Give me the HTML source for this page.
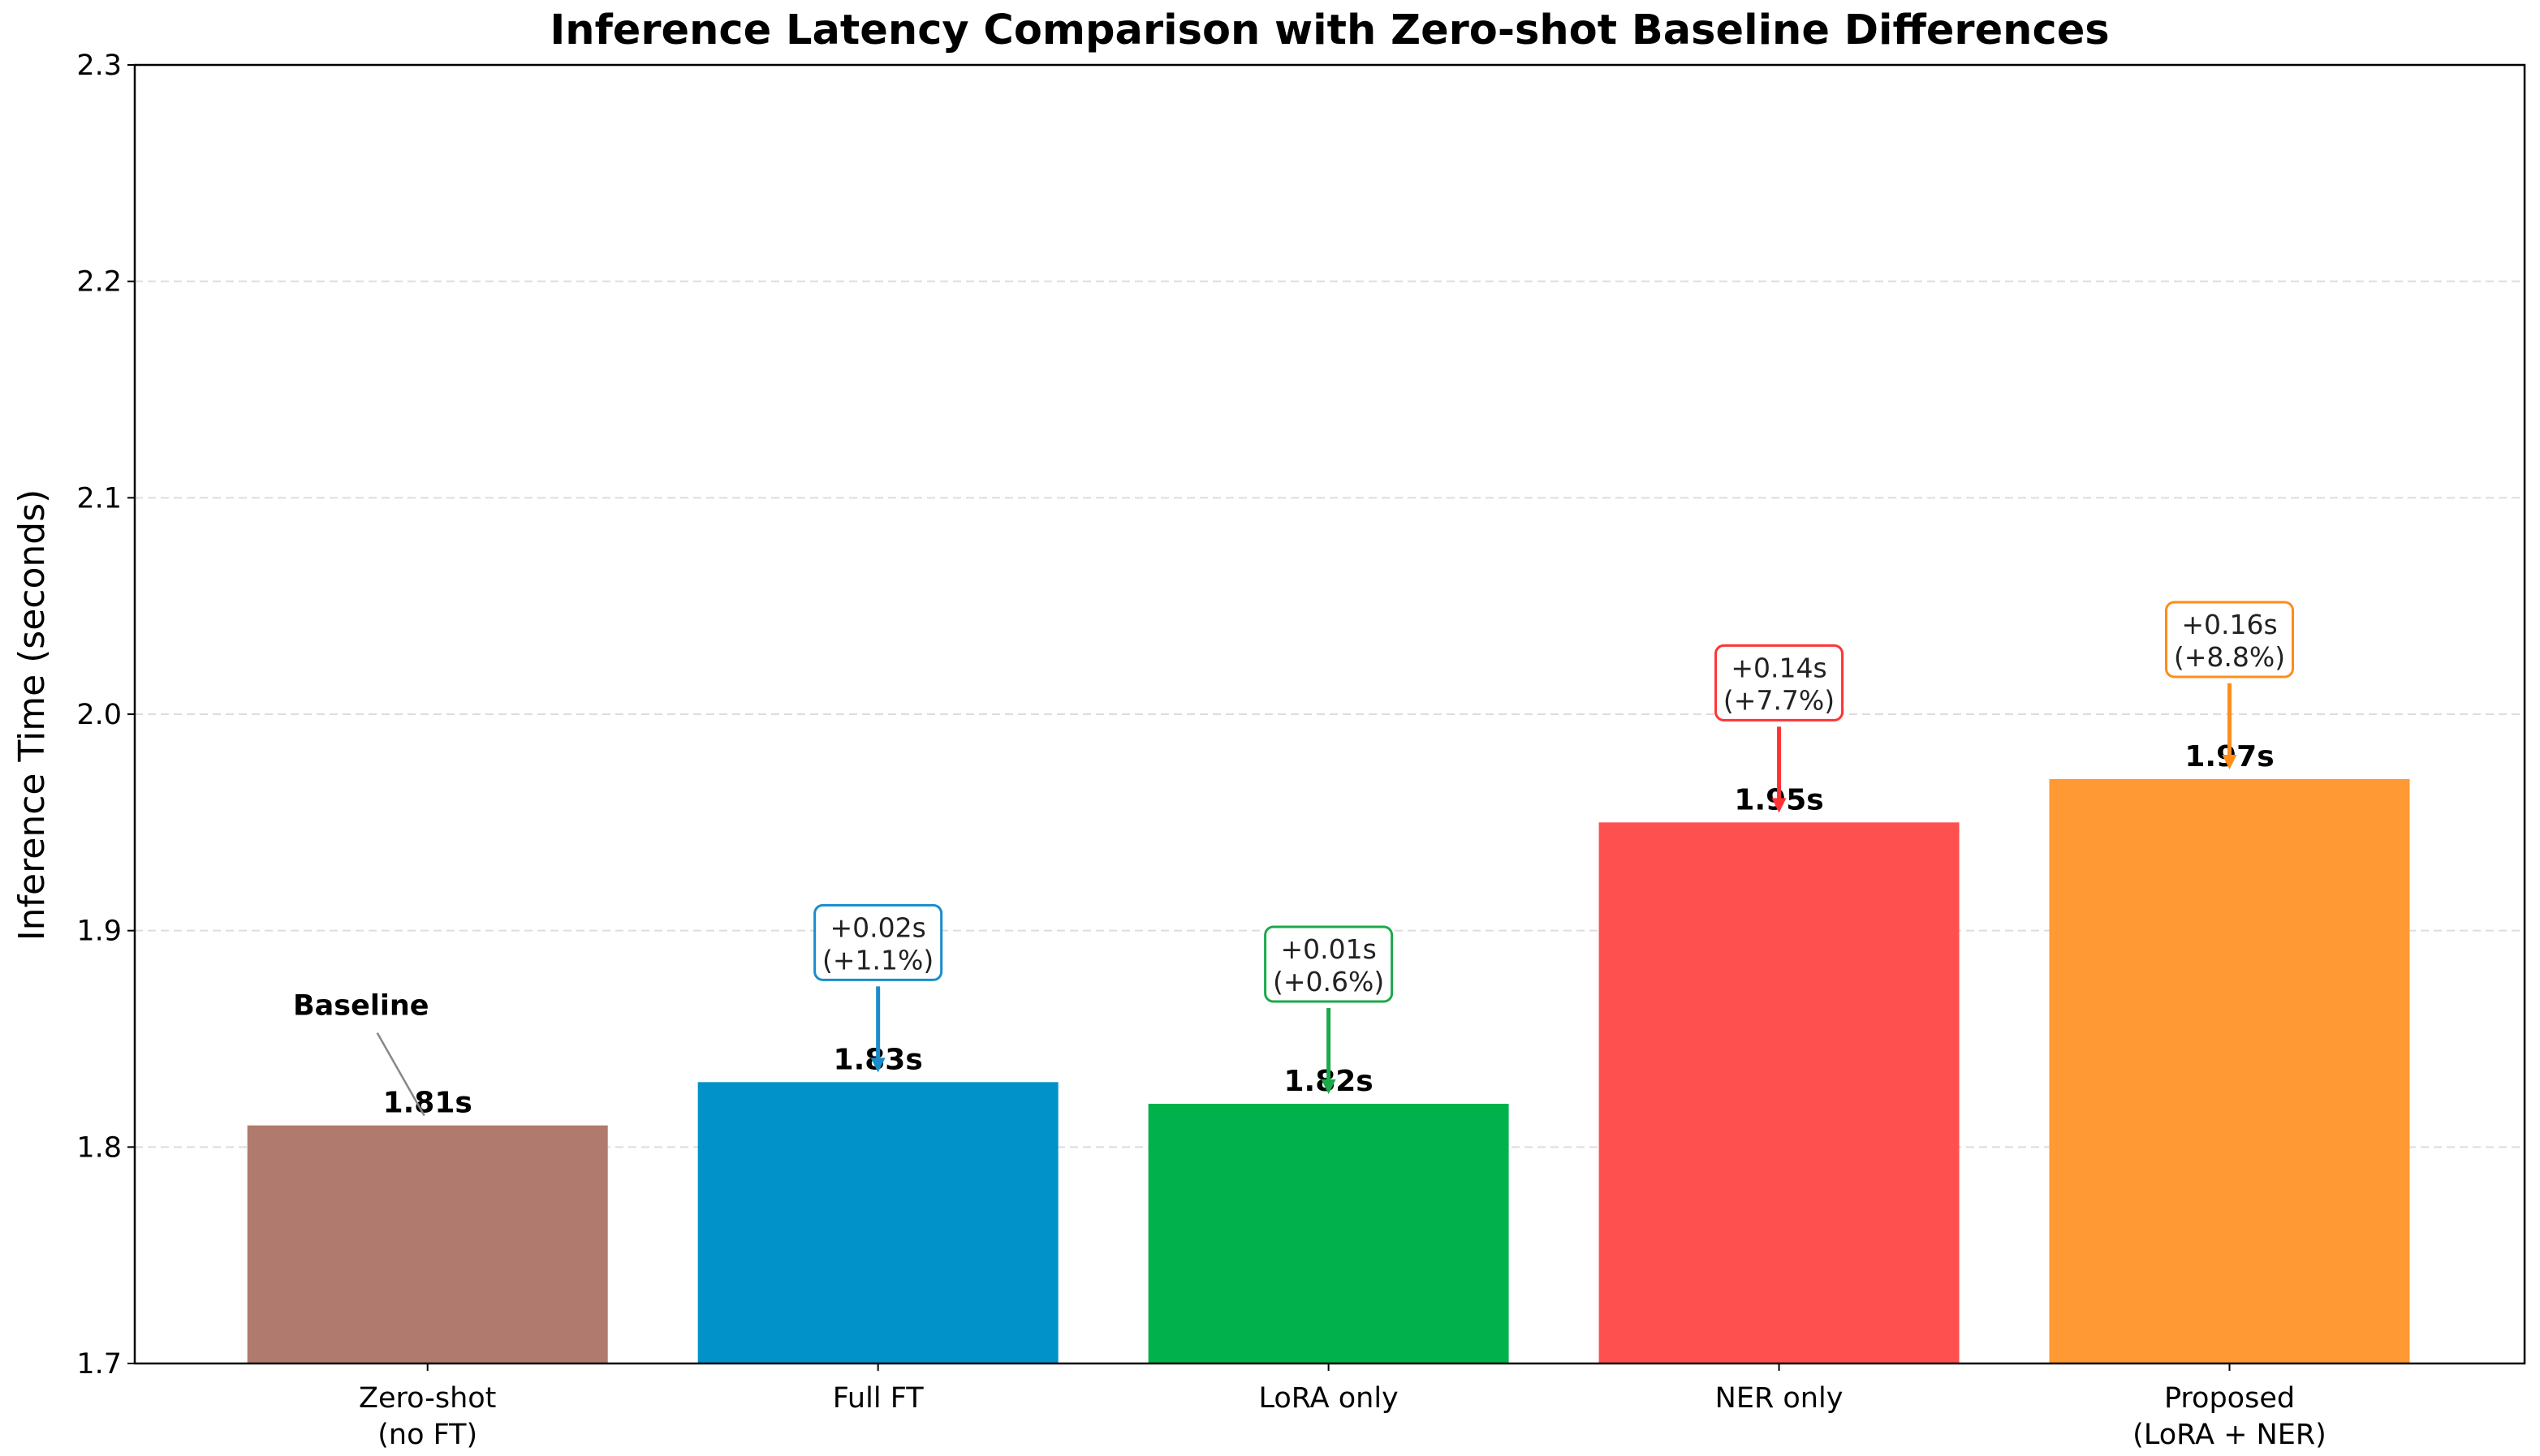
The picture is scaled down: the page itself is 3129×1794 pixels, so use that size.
<!DOCTYPE html>
<html><head><meta charset="utf-8"><style>
html,body{margin:0;padding:0;background:#fff;}
svg{display:block;font-family:"DejaVu Sans","Liberation Sans",sans-serif;}
</style></head><body>
<svg id="chart" width="3129" height="1794" viewBox="0 0 3129 1794" xmlns="http://www.w3.org/2000/svg">
<rect width="3129" height="1794" fill="#fff"/>
<text x="1638" y="54" text-anchor="middle" font-size="51" font-weight="bold" fill="#000">Inference Latency Comparison with Zero-shot Baseline Differences</text>
<text transform="translate(54,881) rotate(-90)" text-anchor="middle" font-size="44" fill="#000">Inference Time (seconds)</text>
<g id="grid"></g><g id="bars"></g><g id="ann"></g>
<rect x="166" y="80" width="2944" height="1600" fill="none" stroke="#000" stroke-width="2.5"/>
<g id="axes"></g>
</svg>
<script>
const categories = ["Zero-shot\n(no FT)", "Full FT", "LoRA only", "NER only", "Proposed\n(LoRA + NER)"];
const values = [1.81, 1.83, 1.82, 1.95, 1.97];
const diffs = [0, 0.02, 0.01, 0.14, 0.16];
const pcts = [0, 1.1, 0.6, 7.7, 8.8];
const colors = ["#b07a6e", "#0092c8", "#00b14c", "#ff5050", "#ff9933"];
const edgeColors = ["#888", "#1a8ccc", "#1aaa4a", "#ff3333", "#ff8c1a"];
const yTicks = [1.7, 1.8, 1.9, 2.0, 2.1, 2.2, 2.3];

const NS = "http://www.w3.org/2000/svg";
const L = 166, R = 3110, T = 80, B = 1680, yMin = 1.7, yMax = 2.3;
const xMin = -0.65, xMax = 4.655;
const y = v => B - (v - yMin) / (yMax - yMin) * (B - T);
const x = i => L + (i - xMin) / (xMax - xMin) * (R - L);
const bw = 0.8 * (R - L) / (xMax - xMin);
function mk(tag, attrs, parent, txt) {
  const e = document.createElementNS(NS, tag);
  for (const k in attrs) e.setAttribute(k, attrs[k]);
  if (txt !== undefined) e.textContent = txt;
  document.getElementById(parent).appendChild(e);
  return e;
}
yTicks.forEach(t => {
  if (t > yMin && t < yMax) {
    const g = mk("line", {x1: L, x2: R, y1: y(t), y2: y(t), stroke: "#ddd", "stroke-width": 2, "stroke-dasharray": "10 6"}, "grid");
    
    
  }
  const tk = mk("line", {x1: L - 9, x2: L, y1: y(t), y2: y(t), stroke: "#000", "stroke-width": 2}, "axes");
  
  
  const lb = mk("text", {x: L - 16, y: y(t) + 12, "text-anchor": "end", "font-size": 35, fill: "#000"}, "axes", t.toFixed(1));
  
  
});
categories.forEach((c, i) => {
  const cx = x(i);
  const r = mk("rect", {x: cx - bw / 2, y: y(values[i]), width: bw, height: B - y(values[i]), fill: colors[i]}, "bars");
  
  
  const tk = mk("line", {x1: cx, x2: cx, y1: B, y2: B + 9, stroke: "#000", "stroke-width": 2}, "axes");
  
  
  c.split("\n").forEach((ln, j) => {
    const t = mk("text", {x: cx, y: B + 54 + j * 45, "text-anchor": "middle", "font-size": 35, fill: "#000"}, "axes", ln);
    
    
  });
  const vl = mk("text", {x: cx, y: y(values[i]) - 16, "text-anchor": "middle", "font-size": 36, "font-weight": "bold", fill: "#000"}, "ann", values[i].toFixed(2) + "s");
  
  
  if (i > 0) {
    const top = y(values[i]);
    const bb = top - 126, bh = 92, bwid = 156;
    const box = mk("rect", {x: cx - bwid / 2, y: bb - bh, width: bwid, height: bh, rx: 10, fill: "#fff", stroke: edgeColors[i], "stroke-width": 3}, "ann");
    
    
    const t1 = mk("text", {x: cx, y: bb - bh + 39, "text-anchor": "middle", "font-size": 33, fill: "#222"}, "ann", "+" + diffs[i].toFixed(2) + "s");
    
    
    const t2 = mk("text", {x: cx, y: bb - bh + 79, "text-anchor": "middle", "font-size": 33, fill: "#222"}, "ann", "(+" + pcts[i].toFixed(1) + "%)");
    
    
    const a = mk("line", {x1: cx, x2: cx, y1: bb + 8, y2: top - 26, stroke: edgeColors[i], "stroke-width": 5}, "ann");
    
    
    const h = mk("polygon", {points: `${cx - 9},${top - 30} ${cx + 9},${top - 30} ${cx},${top - 12}`, fill: edgeColors[i]}, "ann");
    
    
  }
});
const bx = x(0), bt = y(values[0]);
const bl = mk("text", {x: bx - 82, y: bt - 136, "text-anchor": "middle", "font-size": 35, "font-weight": "bold", fill: "#000"}, "ann", "Baseline");


const ba = mk("line", {x1: bx - 62, y1: bt - 114, x2: bx - 4, y2: bt - 12, stroke: "#888", "stroke-width": 2.5}, "ann");


</script>
</body></html>
